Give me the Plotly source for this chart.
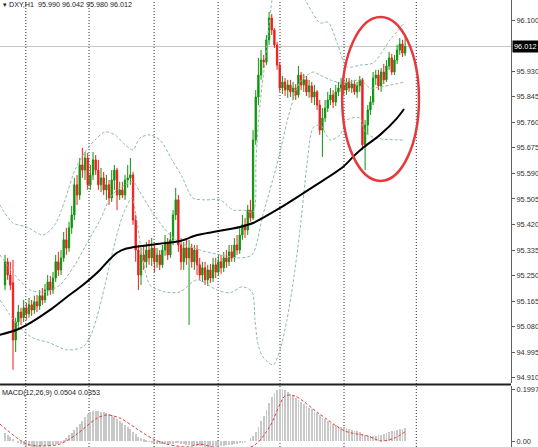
import plotly.graph_objects as go

# ---------------- data ----------------
bar_index = list(range(151))

open_ = [95.219, 95.296, 95.252, 95.226, 95.036, 95.096, 95.129, 95.110, 95.143, 95.123,
         95.153, 95.136, 95.163, 95.149, 95.183, 95.169, 95.202, 95.229, 95.202, 95.242,
         95.296, 95.269, 95.309, 95.369, 95.342, 95.409, 95.452, 95.552, 95.518, 95.618,
         95.601, 95.641, 95.552, 95.585, 95.635, 95.601, 95.552, 95.575, 95.535, 95.552,
         95.508, 95.568, 95.601, 95.518, 95.535, 95.518, 95.568, 95.575, 95.585, 95.435,
         95.335, 95.252, 95.319, 95.296, 95.335, 95.309, 95.342, 95.296, 95.319, 95.286,
         95.335, 95.362, 95.319, 95.369, 95.452, 95.502, 95.352, 95.296, 95.342, 95.309,
         95.342, 95.296, 95.335, 95.286, 95.252, 95.276, 95.236, 95.269, 95.242, 95.286,
         95.262, 95.296, 95.276, 95.309, 95.296, 95.329, 95.309, 95.352, 95.335, 95.385,
         95.419, 95.402, 95.468, 95.442, 95.701, 95.844, 95.917, 95.967, 95.960, 96.034,
         96.107, 96.067, 96.017, 95.950, 95.874, 95.894, 95.867, 95.884, 95.861, 95.874,
         95.851, 95.917, 95.884, 95.901, 95.861, 95.881, 95.844, 95.861, 95.817, 95.734,
         95.774, 95.807, 95.834, 95.851, 95.827, 95.861, 95.874, 95.884, 95.867, 95.894,
         95.874, 95.887, 95.861, 95.881, 95.901, 95.685, 95.751, 95.801, 95.827, 95.907,
         95.917, 95.881, 95.927, 95.901, 95.947, 95.974, 95.927, 95.967, 96.000, 96.020,
         95.990]

high = [95.319, 95.309, 95.296, 95.302, 95.110, 95.153, 95.143, 95.169, 95.159, 95.176,
        95.169, 95.183, 95.186, 95.202, 95.209, 95.222, 95.252, 95.249, 95.262, 95.319,
        95.329, 95.335, 95.395, 95.409, 95.429, 95.482, 95.575, 95.585, 95.641, 95.675,
        95.661, 95.658, 95.618, 95.661, 95.651, 95.635, 95.608, 95.595, 95.585, 95.568,
        95.601, 95.618, 95.608, 95.562, 95.562, 95.585, 95.618, 95.641, 95.595, 95.452,
        95.352, 95.342, 95.352, 95.362, 95.369, 95.375, 95.352, 95.342, 95.335, 95.352,
        95.385, 95.375, 95.395, 95.468, 95.542, 95.518, 95.375, 95.362, 95.369, 95.369,
        95.356, 95.352, 95.352, 95.309, 95.296, 95.296, 95.286, 95.289, 95.309, 95.309,
        95.319, 95.319, 95.329, 95.335, 95.352, 95.352, 95.375, 95.385, 95.409, 95.452,
        95.442, 95.485, 95.502, 95.734, 95.867, 95.974, 96.000, 95.984, 96.050, 96.127,
        96.120, 96.073, 96.027, 95.960, 95.914, 95.907, 95.901, 95.901, 95.894, 95.887,
        95.947, 95.927, 95.921, 95.914, 95.901, 95.894, 95.884, 95.867, 95.834, 95.807,
        95.834, 95.861, 95.874, 95.867, 95.884, 95.894, 95.907, 95.901, 95.907, 95.907,
        95.901, 95.901, 95.894, 95.914, 95.907, 95.768, 95.817, 95.847, 95.927, 95.934,
        95.934, 95.940, 95.954, 95.967, 95.994, 95.987, 95.984, 96.017, 96.040, 96.034,
        96.042]

low = [95.202, 95.236, 95.202, 94.937, 94.996, 95.076, 95.086, 95.096, 95.103, 95.110,
       95.116, 95.123, 95.129, 95.136, 95.153, 95.159, 95.183, 95.186, 95.189, 95.229,
       95.249, 95.252, 95.296, 95.319, 95.329, 95.389, 95.435, 95.485, 95.502, 95.575,
       95.568, 95.535, 95.535, 95.568, 95.585, 95.535, 95.528, 95.518, 95.502, 95.485,
       95.495, 95.535, 95.468, 95.502, 95.508, 95.502, 95.542, 95.552, 95.419, 95.296,
       95.202, 95.219, 95.269, 95.276, 95.286, 95.282, 95.262, 95.276, 95.269, 95.276,
       95.316, 95.302, 95.309, 95.352, 95.435, 95.329, 95.269, 95.269, 95.286, 95.086,
       95.276, 95.269, 95.252, 95.236, 95.229, 95.219, 95.216, 95.226, 95.229, 95.242,
       95.249, 95.256, 95.262, 95.276, 95.282, 95.296, 95.296, 95.319, 95.322, 95.369,
       95.375, 95.385, 95.429, 95.435, 95.685, 95.817, 95.901, 95.940, 95.950, 96.017,
       96.050, 96.007, 95.934, 95.861, 95.854, 95.847, 95.841, 95.844, 95.834, 95.834,
       95.841, 95.867, 95.861, 95.847, 95.841, 95.824, 95.817, 95.801, 95.718, 95.645,
       95.761, 95.794, 95.817, 95.807, 95.814, 95.847, 95.861, 95.851, 95.851, 95.861,
       95.857, 95.851, 95.841, 95.861, 95.668, 95.601, 95.718, 95.784, 95.817, 95.884,
       95.867, 95.861, 95.887, 95.894, 95.934, 95.917, 95.917, 95.954, 95.984, 95.977,
       95.980]

close = [95.296, 95.252, 95.219, 95.036, 95.096, 95.129, 95.110, 95.143, 95.123, 95.153,
         95.136, 95.163, 95.149, 95.183, 95.169, 95.202, 95.229, 95.202, 95.242, 95.296,
         95.269, 95.309, 95.369, 95.342, 95.409, 95.452, 95.552, 95.518, 95.618, 95.601,
         95.641, 95.552, 95.585, 95.635, 95.601, 95.552, 95.575, 95.535, 95.552, 95.508,
         95.568, 95.601, 95.518, 95.535, 95.518, 95.568, 95.575, 95.585, 95.435, 95.335,
         95.252, 95.319, 95.296, 95.335, 95.309, 95.342, 95.296, 95.319, 95.286, 95.335,
         95.362, 95.319, 95.369, 95.452, 95.502, 95.352, 95.296, 95.342, 95.309, 95.342,
         95.296, 95.335, 95.286, 95.252, 95.276, 95.236, 95.269, 95.242, 95.286, 95.262,
         95.296, 95.276, 95.309, 95.296, 95.329, 95.309, 95.352, 95.335, 95.385, 95.419,
         95.402, 95.468, 95.442, 95.701, 95.844, 95.917, 95.967, 95.960, 96.034, 96.107,
         96.067, 96.017, 95.950, 95.874, 95.894, 95.867, 95.884, 95.861, 95.874, 95.851,
         95.917, 95.884, 95.901, 95.861, 95.881, 95.844, 95.861, 95.817, 95.734, 95.774,
         95.807, 95.834, 95.851, 95.827, 95.861, 95.874, 95.884, 95.867, 95.894, 95.874,
         95.887, 95.861, 95.881, 95.901, 95.685, 95.751, 95.801, 95.827, 95.907, 95.917,
         95.881, 95.927, 95.901, 95.947, 95.974, 95.927, 95.967, 96.000, 96.020, 95.990,
         96.012]

# moving average (black) read at sample bars
ma_x = [-1.9, 4.5, 8.2, 16.9, 23.2, 29.2, 35.6, 39.0, 42.0, 45.5, 50.6, 58.0, 65.6, 72.0,
        78.0, 88.1, 93.0, 103.1, 115.5, 126.7, 130.5, 134.2, 140.6, 147.0, 149.6]
ma_y = [95.053, 95.070, 95.086, 95.136, 95.179, 95.219, 95.269, 95.302, 95.326, 95.340,
        95.348, 95.356, 95.365, 95.385, 95.395, 95.412, 95.425, 95.475, 95.545, 95.611,
        95.645, 95.675, 95.718, 95.774, 95.804]

# Bollinger bands read at sample bars
bb_up_x = [-1.9, 3.0, 8.2, 14.2, 18.7, 22.5, 26.2, 30.0, 33.7, 37.5, 41.2, 45.0, 48.0,
           50.6, 54.4, 58.1, 62.6, 66.4, 70.5, 75.0, 80.6, 85.5, 89.2, 93.0, 94.1, 95.2,
           96.4, 97.5, 98.6, 99.7, 101.2, 105.0, 108.7, 112.5, 115.1, 118.1, 121.1, 124.5,
           128.2, 133.1, 138.0, 144.4, 150.0]
bb_up_y = [95.485, 95.425, 95.412, 95.385, 95.419, 95.502, 95.601, 95.661, 95.701, 95.728,
           95.718, 95.685, 95.668, 95.708, 95.718, 95.701, 95.635, 95.578, 95.508, 95.502,
           95.502, 95.468, 95.468, 95.462, 95.635, 95.784, 95.884, 95.960, 96.050, 96.140,
           96.216, 96.283, 96.216, 96.167, 96.127, 96.090, 96.093, 96.024, 95.944, 95.950,
           95.957, 96.034, 96.093]

bb_mid_x = [-1.9, 3.7, 9.4, 15.0, 20.6, 26.2, 30.0, 35.6, 40.1, 45.0, 48.0, 50.6, 55.9,
            61.9, 66.4, 73.1, 80.6, 88.1, 92.6, 96.7, 102.0, 106.9, 110.6, 115.5, 118.1,
            121.9, 125.6, 129.4, 133.1, 136.9, 140.6, 150.0]
bb_mid_y = [95.319, 95.252, 95.202, 95.196, 95.219, 95.286, 95.346, 95.435, 95.518, 95.552,
            95.562, 95.528, 95.452, 95.385, 95.356, 95.335, 95.319, 95.309, 95.319, 95.452,
            95.621, 95.801, 95.894, 95.927, 95.917, 95.901, 95.891, 95.894, 95.901, 95.874,
            95.877, 95.894]

bb_lo_x = [-1.9, 1.9, 5.6, 10.5, 16.9, 23.2, 29.2, 31.9, 34.5, 37.5, 40.5, 44.2, 47.6,
           49.1, 51.4, 54.4, 60.0, 65.6, 72.0, 79.5, 84.4, 88.9, 92.6, 93.7, 94.9, 96.7,
           100.5, 103.1, 105.7, 108.0, 110.6, 113.2, 115.5, 118.1, 121.9, 125.6, 128.2,
           133.1, 135.0, 138.7, 150.0]
bb_lo_y = [95.169, 95.119, 95.076, 95.043, 95.026, 95.003, 95.013, 95.046, 95.113, 95.219,
           95.335, 95.452, 95.508, 95.452, 95.319, 95.219, 95.196, 95.196, 95.236, 95.202,
           95.193, 95.213, 95.196, 95.103, 95.020, 94.980, 94.953, 95.003, 95.103, 95.226,
           95.402, 95.618, 95.741, 95.751, 95.701, 95.718, 95.768, 95.774, 95.728, 95.708,
           95.701]

# MACD main (histogram)
macd_main = [0.031, 0.023, 0.015, 0.008, 0.000, -0.008, -0.012, -0.015, -0.019, -0.021,
             -0.023, -0.023, -0.022, -0.022, -0.021, -0.021, -0.019, -0.019, -0.016, -0.013,
             -0.010, -0.004, 0.004, 0.012, 0.023, 0.031, 0.042, 0.054, 0.065, 0.077,
             0.092, 0.104, 0.111, 0.115, 0.117, 0.115, 0.113, 0.111, 0.108, 0.104,
             0.098, 0.092, 0.084, 0.077, 0.069, 0.061, 0.054, 0.046, 0.035, 0.027,
             0.015, 0.010, 0.006, 0.002, -0.002, -0.004, -0.008, -0.010, -0.012, -0.012,
             -0.013, -0.012, -0.012, -0.010, -0.008, -0.008, -0.012, -0.013, -0.015, -0.016,
             -0.017, -0.018, -0.019, -0.020, -0.021, -0.022, -0.023, -0.023, -0.022, -0.021,
             -0.020, -0.019, -0.018, -0.017, -0.016, -0.015, -0.013, -0.011, -0.009, -0.006,
             -0.003, 0.000, 0.010, 0.020, 0.035, 0.055, 0.075, 0.095, 0.120, 0.145,
             0.168, 0.185, 0.195, 0.1997, 0.198, 0.195, 0.190, 0.182, 0.173, 0.165,
             0.158, 0.151, 0.143, 0.136, 0.128, 0.121, 0.113, 0.106, 0.098, 0.090,
             0.083, 0.077, 0.071, 0.066, 0.062, 0.058, 0.055, 0.052, 0.049, 0.046,
             0.043, 0.040, 0.037, 0.034, 0.027, 0.022, 0.020, 0.019, 0.019, 0.020,
             0.022, 0.025, 0.028, 0.031, 0.035, 0.037, 0.040, 0.043, 0.046, 0.048,
             0.0504]

# MACD signal read at sample bars
sig_x = [-1.9, 8.2, 14.2, 20.6, 27.0, 34.5, 38.2, 43.1, 49.5, 55.5, 60.7, 68.2, 73.1,
         78.0, 93.0, 99.4, 105.0, 108.7, 117.4, 127.5, 136.1, 141.0, 146.2, 150.0]
sig_y = [0.065, -0.012, -0.019, -0.012, 0.027, 0.088, 0.100, 0.088, 0.046, 0.008, -0.012,
         -0.023, -0.012, -0.023, -0.019, 0.058, 0.173, 0.173, 0.108, 0.038, 0.019, 0.000,
         0.012, 0.0353]

price_ticks = [96.100, 95.930, 95.845, 95.760, 95.675, 95.590, 95.505, 95.420, 95.335,
               95.250, 95.165, 95.080, 94.995, 94.910]
last_price = 96.012
grid_bars = [7.8, 31.5, 55.9, 79.9, 103.1, 127.1, 154.2]
circle_box = dict(x0=126.4, x1=155.2, y0=95.565, y1=96.110)

# ---------------- figure ----------------
GREEN = "#0f930f"
RED = "#f21a1a"
BAND = "#8fbca6"
FONT = "Liberation Sans"

fig = go.Figure()

for bx, by in ((bb_up_x, bb_up_y), (bb_mid_x, bb_mid_y), (bb_lo_x, bb_lo_y)):
    fig.add_trace(go.Scatter(x=bx, y=by, mode="lines", xaxis="x", yaxis="y",
                             line=dict(color=BAND, width=1, dash="3px,2px", shape="spline",
                                       smoothing=0.8),
                             hoverinfo="skip", showlegend=False))

fig.add_trace(go.Candlestick(x=bar_index, open=open_, high=high, low=low, close=close,
                             xaxis="x", yaxis="y", whiskerwidth=0,
                             increasing=dict(line=dict(color=GREEN, width=1), fillcolor=GREEN),
                             decreasing=dict(line=dict(color=RED, width=1), fillcolor=RED),
                             showlegend=False))

fig.add_trace(go.Scatter(x=ma_x, y=ma_y, mode="lines", xaxis="x", yaxis="y",
                         line=dict(color="black", width=2, shape="spline", smoothing=0.8),
                         hoverinfo="skip", showlegend=False))

fig.add_trace(go.Bar(x=bar_index, y=macd_main, xaxis="x2", yaxis="y2", width=0.3,
                     marker=dict(color="#c8c8c8", line=dict(width=0)), showlegend=False))
fig.add_trace(go.Scatter(x=sig_x, y=sig_y, mode="lines", xaxis="x2", yaxis="y2",
                         line=dict(color="#e04040", width=1, dash="3px,2px", shape="spline",
                                   smoothing=0.8),
                         hoverinfo="skip", showlegend=False))

H = 447
price_dom = [1 - 383 / H, 1]
macd_dom = [0, 1 - 386 / H]

axis_common = dict(showgrid=False, zeroline=False, showline=True, linecolor="#606060",
                   linewidth=1, ticks="outside", ticklen=3, tickcolor="#606060",
                   tickfont=dict(family=FONT, size=7.4, color="#303030"), side="right")

shapes = []
for gb in grid_bars:
    shapes.append(dict(type="line", xref="x", yref="paper", x0=gb, x1=gb, y0=0, y1=1,
                       line=dict(color="#303030", width=1, dash="1px,2px"), layer="below"))
shapes.append(dict(type="line", xref="paper", yref="y", x0=0, x1=1, y0=last_price,
                   y1=last_price, line=dict(color="#c4c4c4", width=1), layer="below"))
shapes.append(dict(type="line", xref="paper", yref="paper", x0=0, x1=1,
                   y0=1 - 384.5 / H, y1=1 - 384.5 / H, line=dict(color="#202020", width=2)))
shapes.append(dict(type="circle", xref="x", yref="y", line=dict(color="#e5393e", width=2.5),
                   **circle_box))

annotations = [
    dict(xref="paper", yref="paper", x=0.002, y=1.004, xanchor="left", yanchor="top",
         text="▾ DXY,H1  95.990 96.042 95.980 96.012", showarrow=False,
         font=dict(family=FONT, size=7.2, color="#202020")),
    dict(xref="paper", yref="paper", x=0.0, y=1 - 386 / H, xanchor="left", yanchor="top",
         text="MACD(12,26,9) 0.0504 0.0353", showarrow=False,
         font=dict(family=FONT, size=7.2, color="#202020")),
    dict(xref="paper", yref="y", x=1.0, y=last_price, xanchor="left", yanchor="middle",
         xshift=1, text="96.012", showarrow=False, bgcolor="black", borderpad=1,
         font=dict(family=FONT, size=7.4, color="white")),
]

fig.update_layout(
    width=538, height=H, autosize=False,
    margin=dict(l=0, r=27, t=0, b=0),
    paper_bgcolor="white", plot_bgcolor="white",
    showlegend=False, bargap=0,
    xaxis=dict(domain=[0, 1], range=[-1.875, 189.7], anchor="y", showticklabels=False,
               showgrid=False, zeroline=False, showline=False, ticks="",
               rangeslider=dict(visible=False)),
    xaxis2=dict(domain=[0, 1], range=[-1.875, 189.7], anchor="y2", matches="x",
                showticklabels=False, showgrid=False, zeroline=False, showline=False,
                ticks=""),
    yaxis=dict(domain=price_dom, range=[94.893, 96.1665], tickvals=price_ticks,
               ticktext=[f"{v:.3f}" for v in price_ticks], anchor="x", **axis_common),
    yaxis2=dict(domain=macd_dom, range=[-0.023, 0.2112], tickvals=[0, 0.1997],
                ticktext=["0.00", "0.1997"], anchor="x2", **axis_common),
    shapes=shapes, annotations=annotations,
)

fig.write_html("out.html", config={"displayModeBar": False},
               post_script="document.body.style.margin='0px';"
                           "document.body.style.overflow='hidden';")
